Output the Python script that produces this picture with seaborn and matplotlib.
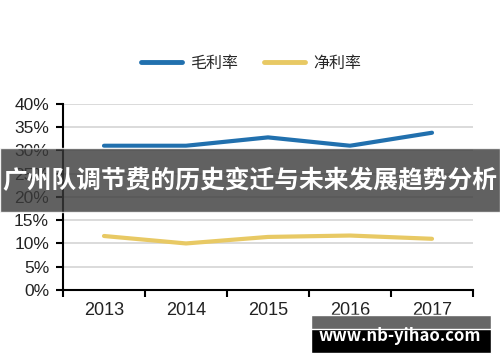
import numpy as np
import pandas as pd
import matplotlib
matplotlib.use("Agg")
import matplotlib.pyplot as plt
from matplotlib.patches import Rectangle
from matplotlib.ticker import FuncFormatter, FixedLocator
import seaborn as sns

# data
years = ["2013", "2014", "2015", "2016", "2017"]
gross_margin = [31.0, 31.0, 32.8, 31.0, 33.8]
net_margin = [11.6, 10.0, 11.4, 11.7, 11.0]
series_names = ["毛利率", "净利率"]
yticks = [0, 5, 10, 15, 20, 25, 30, 35, 40]
banner_title = "广州队调节费的历史变迁与未来发展趋势分析"
watermark = "www.nb-yihao.com"

df = pd.DataFrame({
    "idx": list(range(len(years))) * 2,
    "value": gross_margin + net_margin,
    "series": [series_names[0]] * len(years) + [series_names[1]] * len(years),
})

sns.set_theme(style="white")
plt.rcParams['font.family'] = ['Liberation Sans', 'Noto Sans CJK SC', 'DejaVu Sans']

fig = plt.figure(figsize=(5, 3.62), dpi=100)
ax = fig.add_axes([0.126, 0.199, 0.82, 0.514])

palette = {"毛利率": "#2170AE", "净利率": "#E8C964"}
sns.lineplot(data=df, x="idx", y="value", hue="series", palette=palette,
             linewidth=3, ax=ax, legend=False)

ax.set_xlim(-0.5, len(years) - 0.5)
ax.set_ylim(0, 40)
ax.set_yticks(yticks)
ax.yaxis.set_major_formatter(FuncFormatter(lambda v, p: f"{v:.0f}%"))
ax.set_xticks(range(len(years)))
ax.set_xticklabels(years)
ax.xaxis.set_minor_locator(FixedLocator(np.arange(-0.5, len(years), 1.0)))
ax.tick_params(axis="x", which="major", length=0, pad=9, labelsize=13, colors="#222222")
ax.tick_params(axis="x", which="minor", length=5, width=1.5, color="black", bottom=True)
ax.tick_params(axis="y", length=5, width=1.5, color="black", left=True, labelsize=12.5,
               labelcolor="#222222", pad=5)
ax.set_xlabel("")
ax.set_ylabel("")
ax.grid(axis="y", color="#D4D4D4", linewidth=1.2)
ax.set_axisbelow(True)
for s in ["top", "right"]:
    ax.spines[s].set_visible(False)
for s in ["left", "bottom"]:
    ax.spines[s].set_color("black")
    ax.spines[s].set_linewidth(1.5)

# legend on top
handles = [plt.Line2D([], [], color=palette[n], lw=3.5) for n in series_names]
fig.legend(handles, series_names, loc="center", bbox_to_anchor=(0.502, 0.826), ncol=2,
           frameon=False, handlelength=2.6, columnspacing=1.6, handletextpad=0.5,
           prop={"family": ["Noto Sans CJK SC"], "size": 11.5})

# overlay banner
fig.patches.append(Rectangle((0, 1 - 212 / 362), 1, 64 / 362, transform=fig.transFigure,
                             facecolor="#3a3a3a", alpha=0.8, zorder=5))
fig.text(0.5, 1 - 181 / 362, banner_title, ha="center", va="center", color="white",
         fontsize=17.8, fontweight="bold", family=["Noto Sans CJK SC"], zorder=6)

# watermark box
fig.patches.append(Rectangle((311 / 500, 1 - 353 / 362), 180 / 500, 38 / 362,
                             transform=fig.transFigure, facecolor="black", zorder=5))
fig.patches.append(Rectangle((311 / 500, 1 - 329 / 362), 180 / 500, 14 / 362,
                             transform=fig.transFigure, facecolor="#666666", zorder=6))
fig.text(400 / 500, 1 - 336 / 362, watermark, ha="center", va="center", color="white",
         fontsize=12, fontweight="bold", family=["Noto Sans CJK SC"], zorder=7)

fig.savefig("out.png", dpi=100)
